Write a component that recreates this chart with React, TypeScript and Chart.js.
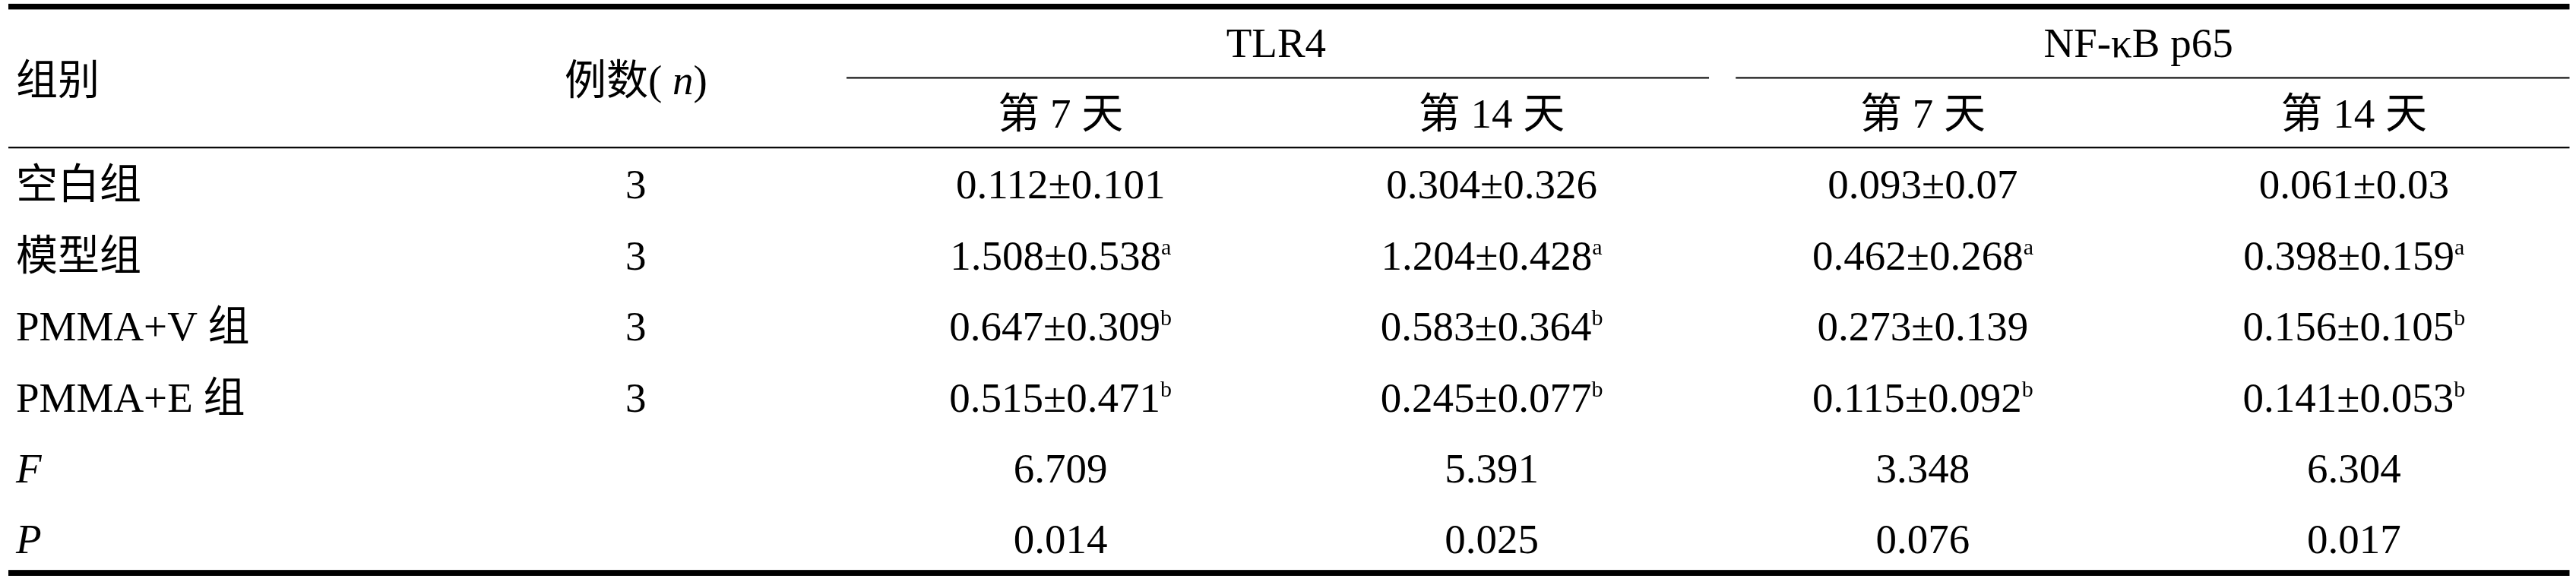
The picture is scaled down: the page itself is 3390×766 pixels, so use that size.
import React, { useEffect, useRef } from "react";
import { Chart, registerables } from "chart.js";

Chart.register(...registerables);

// ---- data ----
const GROUPS = ["空白组", "模型组", "PMMA+V 组", "PMMA+E 组"];
const COUNTS = [3, 3, 3, 3];
const MARKERS = ["TLR4", "NF-κB p65"];
const DAYS = ["第 7 天", "第 14 天", "第 7 天", "第 14 天"];

const TLR4_D7_MEAN = [0.112, 1.508, 0.647, 0.515];
const TLR4_D7_SD = [0.101, 0.538, 0.309, 0.471];
const TLR4_D7_SIG = ["", "a", "b", "b"];

const TLR4_D14_MEAN = [0.304, 1.204, 0.583, 0.245];
const TLR4_D14_SD = [0.326, 0.428, 0.364, 0.077];
const TLR4_D14_SIG = ["", "a", "b", "b"];

const NFKB_D7_MEAN = [0.093, 0.462, 0.273, 0.115];
const NFKB_D7_SD = [0.07, 0.268, 0.139, 0.092];
const NFKB_D7_SIG = ["", "a", "", "b"];

const NFKB_D14_MEAN = [0.061, 0.398, 0.156, 0.141];
const NFKB_D14_SD = [0.03, 0.159, 0.105, 0.053];
const NFKB_D14_SIG = ["", "a", "b", "b"];

const F_VALUES = ["6.709", "5.391", "3.348", "6.304"];
const P_VALUES = ["0.014", "0.025", "0.076", "0.017"];
const STAT_LABELS = ["F", "P"];

// ---- layout (scale units) ----
const SERIF = '"Liberation Serif", "Times New Roman", "Noto Sans CJK SC", serif';
const FONT = `55px ${SERIF}`;
const FONT_IT = `italic 55px ${SERIF}`;
const FONT_SUP = `30px ${SERIF}`;

type Run = { text: string; font: string; dy?: number };

function runsWidth(ctx: CanvasRenderingContext2D, runs: Run[]) {
  let w = 0;
  for (const r of runs) {
    ctx.font = r.font;
    w += ctx.measureText(r.text).width;
  }
  return w;
}

function drawRuns(
  ctx: CanvasRenderingContext2D,
  runs: Run[],
  x: number,
  baseline: number,
  align: "left" | "center"
) {
  const total = runsWidth(ctx, runs);
  let cx = align === "center" ? x - total / 2 : x;
  ctx.textAlign = "left";
  ctx.textBaseline = "alphabetic";
  for (const r of runs) {
    ctx.font = r.font;
    ctx.fillText(r.text, cx, baseline + (r.dy || 0));
    cx += ctx.measureText(r.text).width;
  }
}

const tablePlugin = {
  id: "tablePlugin",
  afterDraw(chart: any) {
    const ctx: CanvasRenderingContext2D = chart.ctx;
    const xs = chart.scales.x;
    const ys = chart.scales.y;
    const X = (v: number) => xs.getPixelForValue(v);
    const Y = (v: number) => ys.getPixelForValue(v);
    const BL = (v: number) => Y(v) + 18.5;

    ctx.save();
    ctx.fillStyle = "#000";

    const rule = (x0: number, x1: number, yv: number, t: number) => {
      const y = Y(yv);
      ctx.fillRect(X(x0), y - t / 2, X(x1) - X(x0), t);
    };
    const LEFT = -0.4406;
    const RIGHT = 5.5;
    rule(LEFT, RIGHT, -2.507, 7.5);
    rule(1.5035, 3.504, -1.503, 2);
    rule(3.566, RIGHT, -1.503, 2);
    rule(LEFT, RIGHT, -0.521, 2.2);
    rule(LEFT, RIGHT, 5.472, 7.8);

    const LABEL_X = -0.423;
    // header
    drawRuns(ctx, [{ text: "组别", font: FONT }], X(LABEL_X), BL(-1.47), "left");
    drawRuns(
      ctx,
      [
        { text: "例数", font: FONT },
        { text: "( ", font: FONT },
        { text: "n", font: FONT_IT },
        { text: ")", font: FONT },
      ],
      X(1.015),
      BL(-1.47),
      "center"
    );
    MARKERS.forEach((m, i) => {
      drawRuns(ctx, [{ text: m, font: FONT }], X(2.5 + i * 2), BL(-2), "center");
    });
    DAYS.forEach((d, i) => {
      drawRuns(ctx, [{ text: d, font: FONT }], X(2 + i), BL(-1), "center");
    });

    // body
    const cols = [
      [TLR4_D7_MEAN, TLR4_D7_SD, TLR4_D7_SIG],
      [TLR4_D14_MEAN, TLR4_D14_SD, TLR4_D14_SIG],
      [NFKB_D7_MEAN, NFKB_D7_SD, NFKB_D7_SIG],
      [NFKB_D14_MEAN, NFKB_D14_SD, NFKB_D14_SIG],
    ] as [number[], number[], string[]][];

    GROUPS.forEach((g, r) => {
      drawRuns(ctx, [{ text: g, font: FONT }], X(LABEL_X), BL(r), "left");
      drawRuns(ctx, [{ text: String(COUNTS[r]), font: FONT }], X(1.015), BL(r), "center");
      cols.forEach(([mean, sd, sig], c) => {
        const runs: Run[] = [{ text: `${mean[r]}±${sd[r]}`, font: FONT }];
        if (sig[r]) runs.push({ text: sig[r], font: FONT_SUP, dy: -20 });
        drawRuns(ctx, runs, X(2 + c), BL(r), "center");
      });
    });

    const statRows = [F_VALUES, P_VALUES];
    statRows.forEach((vals, k) => {
      const r = GROUPS.length + k;
      drawRuns(ctx, [{ text: STAT_LABELS[k], font: FONT_IT }], X(LABEL_X), BL(r), "left");
      vals.forEach((v, c) => {
        drawRuns(ctx, [{ text: v, font: FONT }], X(2 + c), BL(r), "center");
      });
    });

    ctx.restore();
  },
};

export default function App() {
  const ref = useRef<HTMLCanvasElement | null>(null);

  useEffect(() => {
    document.body.style.margin = "0";
    const canvas = ref.current;
    if (!canvas) return;
    const points: { x: number; y: number }[] = [];
    GROUPS.forEach((_, r) => {
      for (let c = 0; c < 4; c++) points.push({ x: 2 + c, y: r });
    });
    const chart = new Chart(canvas, {
      type: "scatter",
      data: {
        datasets: [
          {
            data: points,
            pointRadius: 0,
            pointHoverRadius: 0,
            showLine: false,
          },
        ],
      },
      options: {
        animation: false,
        responsive: false,
        devicePixelRatio: 1,
        layout: { padding: 0 },
        events: [],
        plugins: {
          legend: { display: false },
          tooltip: { enabled: false },
          title: { display: false },
        },
        scales: {
          x: { type: "linear", min: -0.46, max: 5.515, display: false },
          y: { type: "linear", min: -2.6, max: 5.6, reverse: true, display: false },
        },
      },
      plugins: [tablePlugin],
    });
    return () => chart.destroy();
  }, []);

  return (
    <div style={{ width: 3390, height: 766, background: "#fff" }}>
      <canvas ref={ref} width={3390} height={766} style={{ display: "block" }} />
    </div>
  );
}
